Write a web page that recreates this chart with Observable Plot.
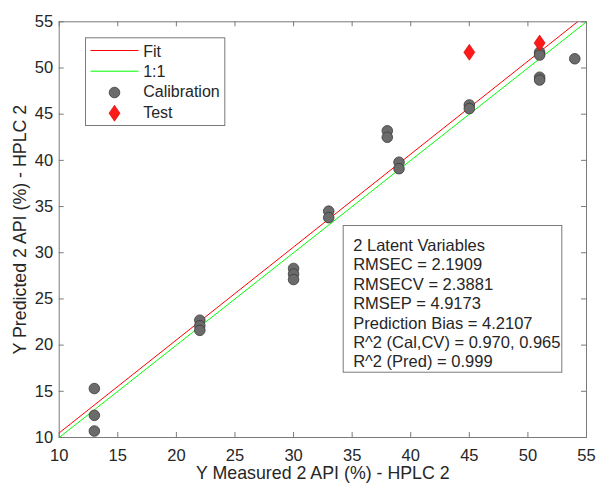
<!DOCTYPE html>
<html><head><meta charset="utf-8">
<script src="https://cdn.jsdelivr.net/npm/d3@7"></script>
<script src="https://cdn.jsdelivr.net/npm/@observablehq/plot@0.6"></script>
<style>body{margin:0;background:#fff}</style>
</head><body><div id="chart"></div>
<script>
const xTicks = [10, 15, 20, 25, 30, 35, 40, 45, 50, 55];
const yTicks = [10, 15, 20, 25, 30, 35, 40, 45, 50, 55];
const calX = [13, 13, 13, 22, 22, 22, 30, 30, 30, 33, 33, 38, 38, 39, 39, 45, 45, 51, 51, 51, 51, 54];
const calY = [15.3, 12.4, 10.7, 22.7, 22.1, 21.6, 28.3, 27.7, 27.1, 34.5, 33.8, 43.2, 42.5, 39.8, 39.1, 46.0, 45.6, 51.7, 51.4, 49.0, 48.7, 51.0];
const testX = [45, 51];
const testY = [51.7, 52.7];
const fitSlope = 1.006;
const fitIntercept = 0.44;
const lineX = [10, 55];
const legendLabels = ["Fit", "1:1", "Calibration", "Test"];
const statsLines = [
  "2 Latent Variables",
  "RMSEC = 2.1909",
  "RMSECV = 2.3881",
  "RMSEP = 4.9173",
  "Prediction Bias = 4.2107",
  "R^2 (Cal,CV) = 0.970, 0.965",
  "R^2 (Pred) = 0.999"
];
const xLabel = "Y Measured 2 API (%) - HPLC 2";
const yLabel = "Y Predicted 2 API (%) - HPLC 2";

const calibration = calX.map((x, i) => ({x, y: calY[i]}));
const test = testX.map((x, i) => ({x, y: testY[i]}));
const fitLine = lineX.map(x => ({x, y: fitSlope * x + fitIntercept}));
const oneLine = lineX.map(x => ({x, y: x}));

const W = 596, H = 484, mL = 58.7, mR = 10, mT = 21.3, mB = 47;
const pw = W - mL - mR, ph = H - mT - mB;
const axisColor = "#7a7a7a";
const textColor = "#262626";
const calFill = "#6b6b6b", calStroke = "#3a3a3a";
const testFill = "#ff1a1a", testStroke = "#d00000";

const diamond = {
  draw(ctx, size) {
    const r = Math.sqrt(size / Math.PI);
    const h = r * 1.45, w = r;
    ctx.moveTo(0, -h); ctx.lineTo(w, 0); ctx.lineTo(0, h); ctx.lineTo(-w, 0); ctx.closePath();
  }
};

const legendRowY = [51.0, 71.2, 91.8, 112.5].map(v => v - mT);
const legendSampleX = 31.3, legendMarkerX = 55.3, legendTextX = 84;

const marks = [
  // inward ticks
  Plot.ruleX(xTicks, {x: d => d, insetTop: ph - 5, stroke: axisColor}),
  Plot.ruleX(xTicks, {x: d => d, insetBottom: ph - 5, stroke: axisColor}),
  Plot.ruleY(yTicks, {y: d => d, insetRight: pw - 5, stroke: axisColor}),
  Plot.ruleY(yTicks, {y: d => d, insetLeft: pw - 5, stroke: axisColor}),
  Plot.axisX({ticks: xTicks, tickSize: 0, tickPadding: 11.5, label: null, fill: textColor, fontSize: 16.5}),
  Plot.axisY({ticks: yTicks, tickSize: 0, tickPadding: 6, label: null, fill: textColor, fontSize: 16.5}),
  Plot.text([xLabel], {frameAnchor: "bottom", dy: 36, text: d => d, lineAnchor: "middle", textAnchor: "middle", fill: textColor, fontSize: 17.8}),
  Plot.text([yLabel], {frameAnchor: "left", dx: -38.7, rotate: -90, text: d => d, lineAnchor: "middle", textAnchor: "middle", fill: textColor, fontSize: 17.8}),
  // lines
  Plot.line(fitLine, {x: "x", y: "y", stroke: "#ff0000", strokeWidth: 1, clip: true}),
  Plot.line(oneLine, {x: "x", y: "y", stroke: "#00ff00", strokeWidth: 1, clip: true}),
  // points
  Plot.dot(calibration, {x: "x", y: "y", r: 5.3, fill: calFill, stroke: calStroke, strokeWidth: 0.8}),
  Plot.dot(test, {x: "x", y: "y", r: 5.5, symbol: diamond, fill: testFill, stroke: testStroke, strokeWidth: 0.6}),
  Plot.frame({stroke: axisColor}),
  // legend
  Plot.frame({insetLeft: 85 - mL, insetTop: 37.3 - mT, insetRight: W - mR - 224.3, insetBottom: H - mB - 125, stroke: axisColor, fill: "white"}),
  Plot.vector([0], {frameAnchor: "top-left", dx: legendSampleX, dy: 50 - mT, rotate: 90, length: 48, anchor: "start", r: 0, stroke: "#ff0000", strokeWidth: 1, strokeLinecap: "butt"}),
  Plot.vector([0], {frameAnchor: "top-left", dx: legendSampleX, dy: 70.7 - mT, rotate: 90, length: 48, anchor: "start", r: 0, stroke: "#00ff00", strokeWidth: 1, strokeLinecap: "butt"}),
  Plot.dot([0], {frameAnchor: "top-left", dx: legendMarkerX, dy: 92 - mT, r: 5.3, fill: calFill, stroke: calStroke, strokeWidth: 0.8}),
  Plot.dot([0], {frameAnchor: "top-left", dx: legendMarkerX, dy: 112.7 - mT, r: 5.5, symbol: diamond, fill: testFill, stroke: testStroke, strokeWidth: 0.6}),
  ...legendLabels.map((t, i) => Plot.text([t], {frameAnchor: "top-left", dx: legendTextX, dy: legendRowY[i], text: d => d, textAnchor: "start", lineAnchor: "middle", fill: textColor, fontSize: 16})),
  // stats box
  Plot.frame({insetLeft: 342.7 - mL, insetTop: 225 - mT, insetRight: W - mR - 561.3, insetBottom: H - mB - 371.7, stroke: axisColor, fill: "white"}),
  Plot.text([statsLines.join("\n")], {frameAnchor: "top-left", dx: 352.7 - mL, dy: 236.3 - mT, text: d => d, textAnchor: "start", lineAnchor: "top", lineHeight: 1.18, fill: textColor, fontSize: 16.5})
];

const chart = Plot.plot({
  width: W, height: H,
  marginLeft: mL, marginRight: mR, marginTop: mT, marginBottom: mB,
  x: {domain: [10, 55]},
  y: {domain: [10, 55]},
  style: {fontSize: "16px", fontFamily: "'Liberation Sans', Arial, Helvetica, sans-serif", color: textColor, background: "white"},
  marks
});
document.getElementById("chart").appendChild(chart);
</script>
</body></html>
